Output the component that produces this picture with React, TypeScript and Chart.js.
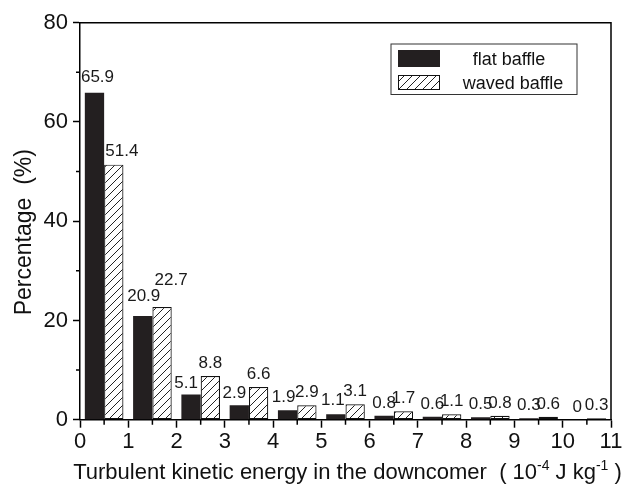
import React, { useEffect, useRef } from 'react';
import { Chart, registerables } from 'chart.js';

Chart.register(...registerables);

// ---- data ----
const binCenters = [0.5, 1.5, 2.5, 3.5, 4.5, 5.5, 6.5, 7.5, 8.5, 9.5, 10.5];
const flatValues = [65.9, 20.9, 5.1, 2.9, 1.9, 1.1, 0.8, 0.6, 0.5, 0.3, 0];
const wavedValues = [51.4, 22.7, 8.8, 6.6, 2.9, 3.1, 1.7, 1.1, 0.8, 0.6, 0.3];
const seriesNames = ['flat baffle', 'waved baffle'];
const xTickValues = [0, 1, 2, 3, 4, 5, 6, 7, 8, 9, 10, 11];
const yTickValues = [0, 20, 40, 60, 80];
const xMinorTicks = [0.5, 1.5, 2.5, 3.5, 4.5, 5.5, 6.5, 7.5, 8.5, 9.5, 10.5];
const yMinorTicks = [10, 30, 50, 70];
const yTitle = 'Percentage  (%)';
const xTitleParts: [string, boolean][] = [
  ['Turbulent kinetic energy in the downcomer  ( 10', false],
  ['-4', true],
  [' J kg', false],
  ['-1', true],
  [' )', false],
];

const FONT = '"Liberation Sans", Arial, Helvetica, sans-serif';

// label placement tweaks (dx, gap above bar)
const labelNudge: Record<string, [number, number]> = {
  '0-0': [3, 11],
  '1-0': [8, 9],
  '0-1': [1, 15],
  '1-1': [9, 22],
  '0-2': [-5, 6],
  '0-3': [-5, 7],
  '0-4': [-4, 8],
  '0-5': [-3, 9],
};

function makeHatch(): CanvasPattern | string {
  const s = 8;
  const c = document.createElement('canvas');
  c.width = s;
  c.height = s;
  const g = c.getContext('2d');
  if (!g) return '#fff';
  g.fillStyle = '#fff';
  g.fillRect(0, 0, s, s);
  g.strokeStyle = '#222';
  g.lineWidth = 1;
  g.beginPath();
  g.moveTo(0, s);
  g.lineTo(s, 0);
  g.moveTo(-s / 2, s / 2);
  g.lineTo(s / 2, -s / 2);
  g.moveTo(s / 2, s * 1.5);
  g.lineTo(s * 1.5, s / 2);
  g.stroke();
  const p = g.createPattern(c, 'repeat');
  return p || '#fff';
}

export default function App() {
  const ref = useRef<HTMLCanvasElement>(null);

  useEffect(() => {
    document.body.style.margin = '0';
    const canvas = ref.current;
    if (!canvas) return;
    const hatch = makeHatch();

    const decorPlugin = {
      id: 'decor',
      afterDatasetsDraw(chart: any) {
        const ctx = chart.ctx;
        ctx.save();
        ctx.font = `17px ${FONT}`;
        ctx.fillStyle = '#1a1a1a';
        ctx.textAlign = 'center';
        ctx.textBaseline = 'alphabetic';
        chart.data.datasets.forEach((ds: any, di: number) => {
          const meta = chart.getDatasetMeta(di);
          meta.data.forEach((bar: any, i: number) => {
            const v = ds.data[i].y;
            const n = labelNudge[`${di}-${i}`] || [0, 8];
            ctx.fillText(String(v), bar.x + n[0], bar.y - n[1]);
          });
        });
        ctx.restore();
      },
      afterDraw(chart: any) {
        const { ctx, chartArea: a, scales } = chart;
        const xs = scales.x;
        const ys = scales.y;
        ctx.save();
        // frame top/right
        ctx.strokeStyle = '#000';
        ctx.lineWidth = 1.5;
        ctx.beginPath();
        ctx.moveTo(a.left, a.top);
        ctx.lineTo(a.right, a.top);
        ctx.lineTo(a.right, a.bottom);
        ctx.stroke();
        // minor ticks
        ctx.lineWidth = 1.5;
        ctx.beginPath();
        xMinorTicks.forEach((v) => {
          const px = xs.getPixelForValue(v);
          ctx.moveTo(px, a.bottom);
          ctx.lineTo(px, a.bottom + 5);
        });
        yMinorTicks.forEach((v) => {
          const py = ys.getPixelForValue(v);
          ctx.moveTo(a.left, py);
          ctx.lineTo(a.left - 4, py);
        });
        ctx.stroke();

        // y title
        ctx.fillStyle = '#111';
        ctx.save();
        ctx.translate(31, (a.top + a.bottom) / 2 + 11);
        ctx.rotate(-Math.PI / 2);
        ctx.font = `23px ${FONT}`;
        ctx.textAlign = 'center';
        ctx.textBaseline = 'alphabetic';
        ctx.fillText(yTitle, 0, 0);
        ctx.restore();

        // x title with superscripts
        const mainFont = `22px ${FONT}`;
        const supFont = `14px ${FONT}`;
        let total = 0;
        xTitleParts.forEach(([t, sup]) => {
          ctx.font = sup ? supFont : mainFont;
          total += ctx.measureText(t).width;
        });
        let x = (a.left + a.right) / 2 + 2 - total / 2;
        const base = 479;
        ctx.textAlign = 'left';
        ctx.textBaseline = 'alphabetic';
        xTitleParts.forEach(([t, sup]) => {
          ctx.font = sup ? supFont : mainFont;
          ctx.fillText(t, x, sup ? base - 9 : base);
          x += ctx.measureText(t).width;
        });

        // legend
        const lx = 391, ly = 44, lw = 186, lh = 50.5;
        ctx.lineWidth = 1;
        ctx.strokeStyle = '#333';
        ctx.strokeRect(lx, ly, lw, lh);
        ctx.fillStyle = '#231f20';
        ctx.fillRect(398, 50, 42, 17);
        ctx.fillStyle = hatch as any;
        ctx.fillRect(398, 75, 42, 14.5);
        ctx.strokeStyle = '#111';
        ctx.strokeRect(398.5, 75.5, 41, 14);
        ctx.fillStyle = '#111';
        ctx.font = `18px ${FONT}`;
        ctx.textAlign = 'center';
        ctx.fillText(seriesNames[0], 509, 65);
        ctx.fillText(seriesNames[1], 513, 88.5);
        ctx.restore();
      },
    };

    Chart.defaults.color = '#000';
    const chart = new Chart(canvas, {
      type: 'bar',
      data: {
        datasets: [
          {
            label: seriesNames[0],
            data: binCenters.map((x, i) => ({ x, y: flatValues[i] })),
            backgroundColor: '#231f20',
            borderWidth: 0,
            categoryPercentage: 0.8,
            barPercentage: 1.0,
          },
          {
            label: seriesNames[1],
            data: binCenters.map((x, i) => ({ x, y: wavedValues[i] })),
            backgroundColor: hatch as any,
            borderColor: '#111',
            borderWidth: 1.2,
            borderSkipped: false,
            categoryPercentage: 0.8,
            barPercentage: 1.0,
          },
        ] as any,
      },
      options: {
        responsive: false,
        animation: false,
        devicePixelRatio: 1,
        layout: { padding: { left: 0, top: 22.7, right: 22, bottom: 0 } },
        plugins: {
          legend: { display: false },
          tooltip: { enabled: false },
        },
        scales: {
          x: {
            type: 'linear',
            min: 0,
            max: 11,
            offset: false,
            afterBuildTicks: (s: any) => {
              s.ticks = xTickValues.map((v) => ({ value: v }));
            },
            afterFit: (s: any) => {
              s.height = 486 - 419.7;
            },
            grid: {
              offset: false,
              drawOnChartArea: false,
              drawTicks: true,
              tickLength: 8,
              tickColor: '#000',
              tickWidth: 1.5,
            },
            border: { display: true, color: '#000', width: 1.5 },
            ticks: {
              font: { family: FONT, size: 22 },
              color: '#111',
              padding: 1,
              maxRotation: 0,
              autoSkip: false,
            },
          } as any,
          y: {
            type: 'linear',
            min: 0,
            max: 80,
            afterBuildTicks: (s: any) => {
              s.ticks = yTickValues.map((v) => ({ value: v }));
            },
            afterFit: (s: any) => {
              s.width = 80;
            },
            grid: {
              drawOnChartArea: false,
              drawTicks: true,
              tickLength: 7,
              tickColor: '#000',
              tickWidth: 1.5,
            },
            border: { display: true, color: '#000', width: 1.5 },
            ticks: {
              font: { family: FONT, size: 22 },
              color: '#111',
              padding: 5,
            },
          } as any,
        },
      },
      plugins: [decorPlugin],
    });

    return () => chart.destroy();
  }, []);

  return (
    <div style={{ width: 633, height: 486, background: '#fff' }}>
      <canvas ref={ref} width={633} height={486} style={{ display: 'block' }} />
    </div>
  );
}
